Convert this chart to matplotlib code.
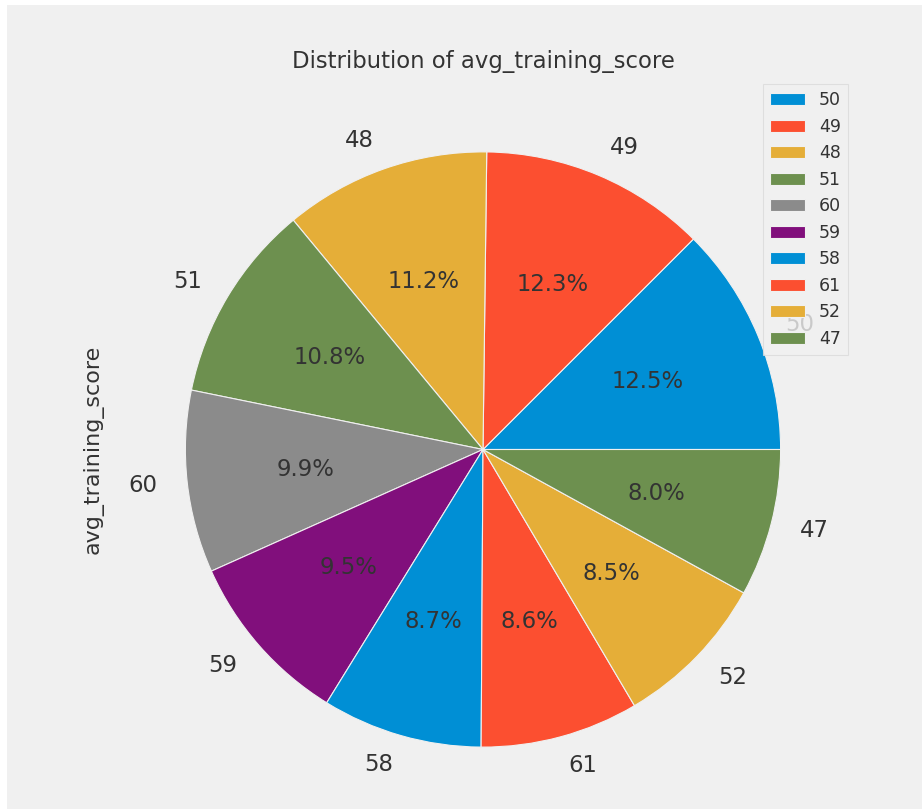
import matplotlib
matplotlib.use('Agg')
import matplotlib.pyplot as plt
from matplotlib.patches import Rectangle

plt.style.use('fivethirtyeight')

scores = ['50', '49', '48', '51', '60', '59', '58', '61', '52', '47']
shares = [12.5, 12.3, 11.2, 10.8, 9.9, 9.5, 8.7, 8.6, 8.5, 8.0]

txt = '#333333'
fig = plt.figure(figsize=(9.22, 8.09), dpi=100)
fig.patch.set_facecolor('#f0f0f0')
ax = fig.add_axes([111 / 922, (809 - 822) / 809, 744 / 922, 745 / 809])

wedges, labels, pcts = ax.pie(shares, labels=scores, autopct='%1.1f%%',
                              startangle=0, counterclock=True,
                              labeldistance=1.1, pctdistance=0.6,
                              wedgeprops=dict(edgecolor='#f0f0f0', linewidth=0.8),
                              textprops=dict(fontsize=16.4, color=txt))
ax.set_aspect('equal')
ax.set_xlim(-1.25, 1.25)
ax.set_ylim(-1.25, 1.25)

ax.set_title('Distribution of avg_training_score', fontsize=16.4, color=txt, pad=7)
ax.set_ylabel('avg_training_score', fontsize=16, color=txt, labelpad=5)

leg = ax.legend(wedges, scores, loc='upper right', fontsize=12.5, fancybox=False,
                framealpha=0.8, borderaxespad=0.4, labelspacing=0.49)
leg.get_frame().set_facecolor('#f0f0f0')
leg.get_frame().set_edgecolor('#dadada')
leg.get_frame().set_linewidth(0.8)
for t in leg.get_texts():
    t.set_color(txt)

# white border strips along the top and left edges
fig.patches.append(Rectangle((0, 1 - 5 / 809), 1, 5 / 809, transform=fig.transFigure,
                             facecolor='white', edgecolor='none', zorder=10))
fig.patches.append(Rectangle((0, 0), 7 / 922, 1, transform=fig.transFigure,
                             facecolor='white', edgecolor='none', zorder=10))

fig.savefig('out.png', dpi=100, facecolor=fig.get_facecolor())
